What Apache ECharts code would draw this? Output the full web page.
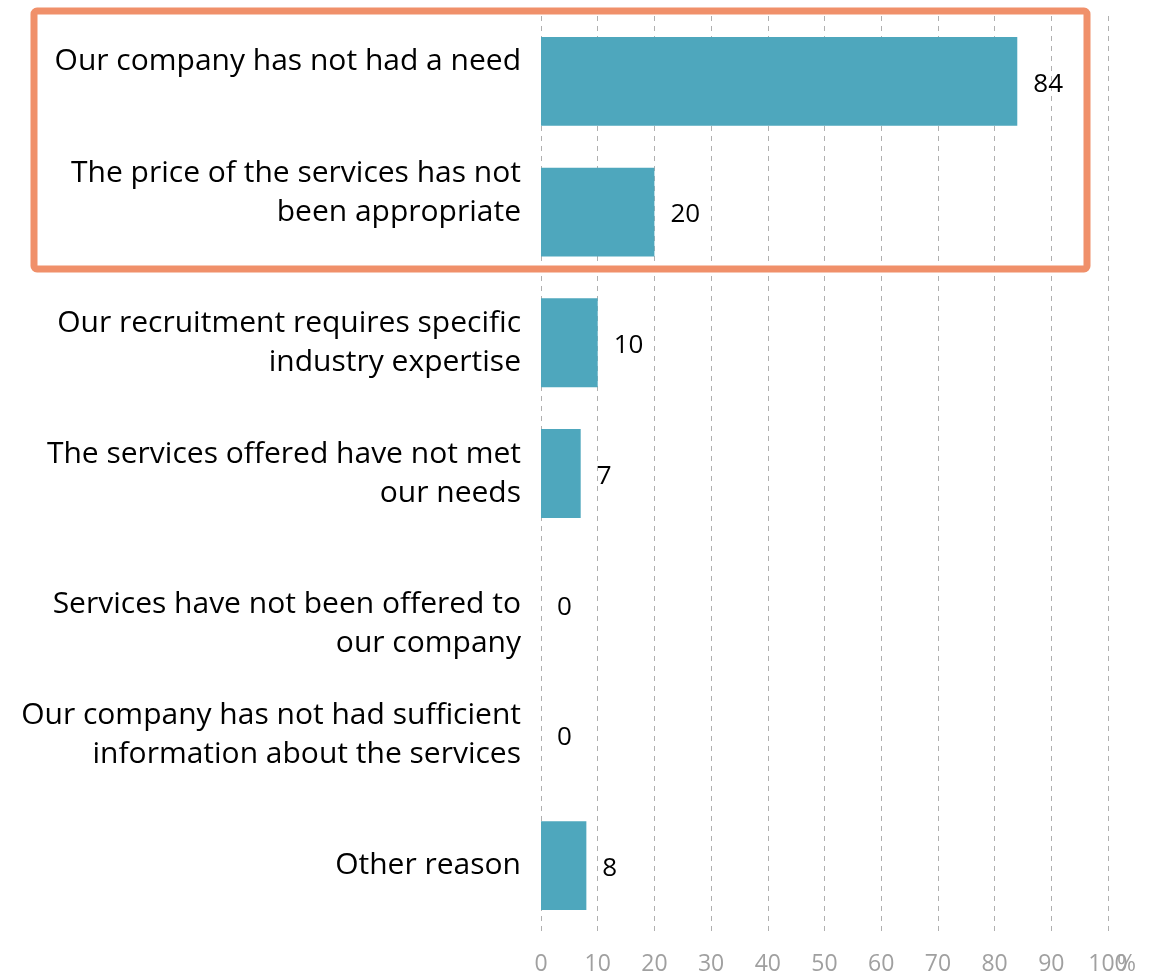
<!DOCTYPE html>
<html>
<head>
<meta charset="utf-8">
<script src="https://cdn.jsdelivr.net/npm/echarts@6/dist/echarts.min.js"></script>
<style>html,body{margin:0;padding:0;background:#fff;}#c{width:1165px;height:977px;}</style>
</head>
<body>
<div id="c"></div>
<script>
const categories = [
  'Our company has not had a need',
  'The price of the services has not\nbeen appropriate',
  'Our recruitment requires specific\nindustry expertise',
  'The services offered have not met\nour needs',
  'Services have not been offered to\nour company',
  'Our company has not had sufficient\ninformation about the services',
  'Other reason'
];
const values = [84, 20, 10, 7, 0, 0, 8];
const axisMin = 0, axisMax = 100, axisStep = 10;

// the reference labels carry an empty wrapped line before/after some of them
const blankBefore = [false, false, false, false, true, false, false];
const blankAfter  = [true, true, false, false, false, false, false];
const yData = categories.map((c, i) => (blankBefore[i] ? ' \n' : '') + c + (blankAfter[i] ? '\n ' : ''));

const chart = echarts.init(document.getElementById('c'));
chart.setOption({
  animation: false,
  backgroundColor: '#fff',
  textStyle: { fontFamily: 'Open Sans' },
  grid: { left: 541, right: 57, top: 16, bottom: 46, containLabel: false },
  xAxis: {
    type: 'value', min: axisMin, max: axisMax, interval: axisStep,
    axisLine: { show: false }, axisTick: { show: false },
    splitLine: { show: true, lineStyle: { type: [5, 5], color: '#b0b0b0', width: 1 } },
    axisLabel: { color: '#a0a0a0', fontSize: 23, margin: 22, fontFamily: 'Open Sans' },
    name: '%', nameLocation: 'end', nameGap: 9, nameMoveOverlap: false,
    nameTextStyle: { color: '#a0a0a0', fontSize: 23, verticalAlign: 'top', padding: [22, 0, 0, 0] }
  },
  yAxis: {
    type: 'category', data: yData, inverse: true,
    axisLine: { show: false }, axisTick: { show: false },
    axisLabel: { color: '#000', fontSize: 30, lineHeight: 39, margin: 20, align: 'right', fontFamily: 'Open Sans' }
  },
  series: [{
    type: 'bar', data: values, barCategoryGap: '32%',
    itemStyle: { color: '#4ea7bd' },
    label: { show: true, position: 'right', distance: 16, offset: [0, 3], color: '#000', fontSize: 26, fontFamily: 'Open Sans' }
  }],
  graphic: [{
    type: 'rect', shape: { x: 34, y: 11, width: 1053, height: 258, r: 3 },
    style: { fill: 'none', stroke: '#f0906a', lineWidth: 7 }, z: 100
  }]
});
</script>
</body>
</html>
